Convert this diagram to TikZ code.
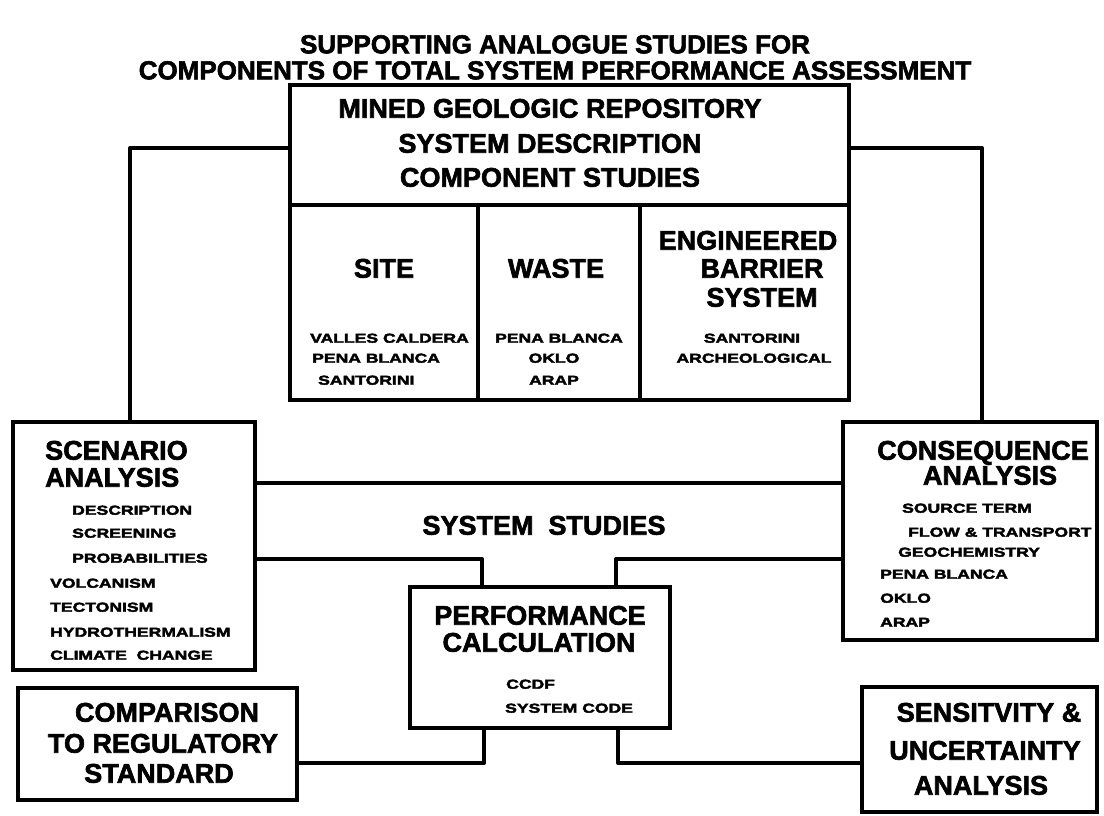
\documentclass[tikz,border=0pt]{standalone}
\usepackage{fontspec}
\newfontfamily\hb{Liberation Sans}[FakeBold=2.2]
\newfontfamily\hsm{Liberation Sans}[FakeStretch=1.35,FakeBold=3]
\begin{document}
\begin{tikzpicture}[x=1pt,y=-1pt,
  box/.style={draw, rectangle, line width=4pt, inner sep=0pt, outer sep=0pt},
  conn/.style={line width=4pt, line join=round},
  bigt/.style={font=\hb\bfseries\fontsize{27}{30}\selectfont, inner sep=0pt, anchor=base, yshift=-9.7pt},
  bigl/.style={bigt, anchor=base west},
  tit/.style={font=\hb\bfseries\fontsize{26}{30}\selectfont, inner sep=0pt, anchor=base, yshift=-9.3pt},
  smt/.style={font=\hsm\bfseries\fontsize{13}{15}\selectfont, inner sep=0pt, anchor=base, yshift=-4.7pt},
  sml/.style={smt, anchor=base west}]
\useasboundingbox (0,0) rectangle (1104,815);
\fill[white] (0,0) rectangle (1104,815);

% title
\node[tit] (title1) at (555,44) {SUPPORTING ANALOGUE STUDIES FOR};
\node[tit] (title2) at (555,70) {COMPONENTS OF TOTAL SYSTEM PERFORMANCE ASSESSMENT};

% boxes
\node[box, minimum width=559pt, minimum height=315pt] (top) at (569.5,242.5) {};
\node[box, minimum width=242pt, minimum height=248pt] (scen) at (134,546) {};
\node[box, minimum width=254pt, minimum height=218pt] (cons) at (970,531) {};
\node[box, minimum width=260pt, minimum height=141pt] (perf) at (540,657.5) {};
\node[box, minimum width=279pt, minimum height=112pt] (comp) at (157.5,744) {};
\node[box, minimum width=235pt, minimum height=125pt] (sens) at (979.5,749.5) {};

% top box inner dividers
\draw[conn] (top.west |- 0,205) -- (top.east |- 0,205);
\draw[conn] (478,205) -- (top.south -| 478,0);
\draw[conn] (640,205) -- (top.south -| 640,0);

% top box text
\node[bigt] (h1) at (550,108) {MINED GEOLOGIC REPOSITORY};
\node[bigt] (h2) at (550,143) {SYSTEM DESCRIPTION};
\node[bigt] (h3) at (550,177) {COMPONENT STUDIES};
\node[bigt] (site) at (384,268) {SITE};
\node[bigt] (waste) at (556,268) {WASTE};
\node[bigt] (ebs1) at (748,240) {ENGINEERED};
\node[bigt] (ebs2) at (762,268) {BARRIER};
\node[bigt] (ebs3) at (762,297) {SYSTEM};
\node[sml] (s1) at (310,338) {VALLES CALDERA};
\node[sml] (s2) at (312,358) {PENA BLANCA};
\node[sml] (s3) at (318,380) {SANTORINI};
\node[smt] (w1) at (559,338) {PENA BLANCA};
\node[smt] (w2) at (554,358) {OKLO};
\node[smt] (w3) at (554,380) {ARAP};
\node[smt] (e1) at (752,338) {SANTORINI};
\node[smt] (e2) at (754,358) {ARCHEOLOGICAL};

% scenario
\node[bigl] (sc1) at (45,450) {SCENARIO};
\node[bigl] (sc2) at (45,477) {ANALYSIS};
\node[sml] (sc3) at (72,510) {DESCRIPTION};
\node[sml] (sc4) at (72,533) {SCREENING};
\node[sml] (sc5) at (72,558) {PROBABILITIES};
\node[sml] (sc6) at (50,583) {VOLCANISM};
\node[sml] (sc7) at (50,607) {TECTONISM};
\node[sml] (sc8) at (50,632) {HYDROTHERMALISM};
\node[sml] (sc9) at (50,655) {CLIMATE\ \ CHANGE};

% consequence
\node[bigt] (co1) at (983,450) {CONSEQUENCE};
\node[bigt] (co2) at (990,475) {ANALYSIS};
\node[sml] (co3) at (902,508) {SOURCE TERM};
\node[sml] (co4) at (908,532) {FLOW \& TRANSPORT};
\node[sml] (co5) at (898,552) {GEOCHEMISTRY};
\node[sml] (co6) at (880,574) {PENA BLANCA};
\node[sml] (co7) at (880,598) {OKLO};
\node[sml] (co8) at (880,622) {ARAP};

% system studies
\node[bigt] (ss) at (544,525) {SYSTEM\ \ STUDIES};

% performance
\node[bigt] (p1) at (540,615) {PERFORMANCE};
\node[bigt] (p2) at (539,642) {CALCULATION};
\node[sml] (p3) at (506,684) {CCDF};
\node[sml] (p4) at (505,708) {SYSTEM CODE};

% comparison
\node[bigt] (cm1) at (167,712) {COMPARISON};
\node[bigt] (cm2) at (163,743) {TO REGULATORY};
\node[bigt] (cm3) at (159,773) {STANDARD};

% sensitivity
\node[bigt] (se1) at (989,712) {SENSITVITY \&};
\node[bigt] (se2) at (985,750) {UNCERTAINTY};
\node[bigt] (se3) at (981,785) {ANALYSIS};

% connectors
\draw[conn] (top.west |- 0,148) -| ([xshift=-4pt]scen.north);
\draw[conn] (top.east |- 0,148) -| ([xshift=12pt]cons.north);
\draw[conn] (scen.east |- 0,483) -- (cons.west |- 0,483);
\draw[conn] (scen.east |- 0,559) -| ([xshift=-58pt]perf.north);
\draw[conn] (cons.west |- 0,559) -| ([xshift=76pt]perf.north);
\draw[conn] ([xshift=-56pt]perf.south) |- (comp.east |- 0,763);
\draw[conn] ([xshift=78pt]perf.south) |- (sens.west |- 0,763);
\end{tikzpicture}
\end{document}
